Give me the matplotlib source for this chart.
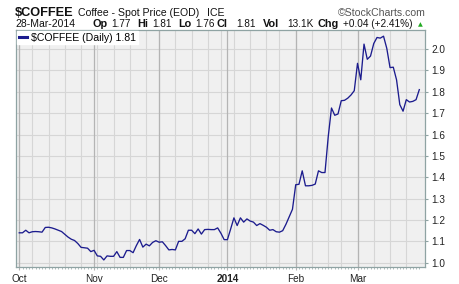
import numpy as np
import pandas as pd
import matplotlib.pyplot as plt

plt.rcParams['font.family'] = ['Liberation Sans', 'DejaVu Sans']

# Trading days Oct 1 2013 - Mar 28 2014 (exchange holidays removed)
holidays = ['2013-11-28', '2013-12-25', '2014-01-01', '2014-01-20', '2014-02-17']
dates = pd.bdate_range('2013-10-01', '2014-03-28')
dates = dates[~dates.isin(pd.to_datetime(holidays))]

# Daily close
close = [
    1.140, 1.140, 1.152, 1.140, 1.145, 1.146, 1.145, 1.143, 1.165, 1.166,
    1.163, 1.158, 1.152, 1.146, 1.133, 1.120, 1.110, 1.104, 1.090, 1.072,
    1.070, 1.068, 1.052, 1.058, 1.032, 1.030, 1.013, 1.032, 1.030, 1.030,
    1.052, 1.025, 1.025, 1.057, 1.057, 1.047, 1.080, 1.109, 1.073, 1.087,
    1.079, 1.095, 1.103, 1.096, 1.098, 1.080, 1.060, 1.062, 1.060, 1.100,
    1.100, 1.112, 1.152, 1.152, 1.136, 1.158, 1.134, 1.155, 1.156, 1.155,
    1.155, 1.163, 1.138, 1.108, 1.108, 1.158, 1.210, 1.174, 1.210, 1.190,
    1.205, 1.195, 1.190, 1.174, 1.183, 1.175, 1.166, 1.152, 1.155, 1.145,
    1.143, 1.150, 1.180, 1.215, 1.250, 1.365, 1.367, 1.430, 1.360, 1.360,
    1.362, 1.368, 1.430, 1.422, 1.422, 1.590, 1.724, 1.690, 1.696, 1.758,
    1.760, 1.770, 1.785, 1.805, 1.933, 1.856, 2.023, 1.952, 1.967, 2.026,
    2.054, 2.051, 2.060, 2.003, 1.913, 1.915, 1.856, 1.740, 1.709, 1.763,
    1.752, 1.755, 1.763, 1.810,
]

month_labels = ['Oct', 'Nov', 'Dec', '2014', 'Feb', 'Mar']
y_ticks = [1.0, 1.1, 1.2, 1.3, 1.4, 1.5, 1.6, 1.7, 1.8, 1.9, 2.0]

quote_keys = ['Op', 'Hi', 'Lo', 'Cl', 'Vol', 'Chg']
quote_vals = ['1.77', '1.81', '1.76', '1.81', '13.1K', '+0.04 (+2.41%)']

idx = np.arange(len(dates))
month_pos = idx[np.r_[True, dates.month[1:] != dates.month[:-1]]]
wk = dates.isocalendar().week.values
week_pos = idx[np.r_[True, wk[1:] != wk[:-1]]]

fig = plt.figure(figsize=(4.6, 2.84), dpi=100)
ax = fig.add_axes([16 / 460, 1 - 267 / 284, (425 - 16) / 460, (267 - 30) / 284])
ax.set_facecolor('#f0f0f0')

spine_col = '#8fa3a3'
for s in ax.spines.values():
    s.set_color(spine_col)
    s.set_linewidth(0.9)

# grid
for y in y_ticks:
    ax.axhline(y, color='#d6d6d6', lw=0.8, zorder=0)
for p in week_pos:
    ax.axvline(p, color='#d6d6d6', lw=0.8, zorder=0)
for p in month_pos:
    ax.axvline(p, color='#b4b4b4', lw=0.9, zorder=0)

ax.plot(idx, close, color='#1c1c8e', lw=0.95, label='$COFFEE (Daily) 1.81', zorder=3)

ax.set_xlim(-1.0, 124.75)
ax.set_ylim(0.98, 2.089)

ax.yaxis.tick_right()
ax.set_yticks(y_ticks)
ax.set_yticklabels(['%.1f' % v for v in y_ticks])
ax.tick_params(axis='y', length=2.5, width=0.8, color=spine_col, pad=2,
               labelsize=7.2, labelcolor='#222222')

ax.set_xticks(month_pos)
ax.set_xticklabels(month_labels)
ax.set_xticks(idx, minor=True)
ax.tick_params(axis='x', which='major', length=2, width=0.8, color='#b4b4b4',
               pad=3, labelsize=7.2, labelcolor='#222222')
ax.tick_params(axis='x', which='minor', length=1.5, width=0.5, color=spine_col)
for lbl in ax.get_xticklabels():
    if lbl.get_text() == '2014':
        lbl.set_fontweight('bold')

leg = ax.legend(loc='upper left', frameon=True, fontsize=7.6, handlelength=0.8,
                handletextpad=0.4, borderpad=0.15, borderaxespad=0.1,
                fancybox=False)
leg.get_frame().set_facecolor('white')
leg.get_frame().set_edgecolor('white')
leg.get_frame().set_alpha(1)
for line in leg.get_lines():
    line.set_linewidth(2.2)

# header
def put(x, y, s, **kw):
    fig.text(x / 460, 1 - y / 284, s, va='baseline', ha='left', **kw)

put(15, 15.5, '$COFFEE', fontsize=9.2, fontweight='bold', color='#111111')
put(78, 15.5, 'Coffee - Spot Price (EOD)', fontsize=7.6, color='#111111')
put(207, 15.5, 'ICE', fontsize=7.6, color='#111111')
put(338, 15.5, '\u00a9StockCharts.com', fontsize=7.6, color='#555555')

put(15, 26.7, '28-Mar-2014', fontsize=7.5, color='#111111')
key_x = [93, 137, 178, 217, 263, 318]
val_x = [111, 152, 195, 236, 287, 343]
for k, v, kx, vx in zip(quote_keys, quote_vals, key_x, val_x):
    put(kx, 26.7, k, fontsize=7.8, fontweight='bold', color='#111111')
    put(vx, 26.7, v, fontsize=7.2, color='#111111')
put(418, 26.2, '\u25b2', fontsize=4.5, color='#22aa22', family='DejaVu Sans')

fig.savefig('out.png', dpi=100)
